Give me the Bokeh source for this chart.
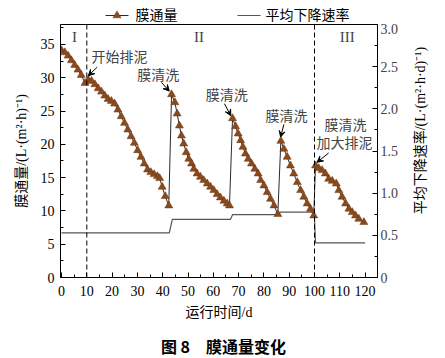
import math
from bokeh.plotting import figure
from bokeh.layouts import column, row
from bokeh.models import (Range1d, LinearAxis, Span, Label, Arrow, VeeHead,
                          FixedTicker, ColumnDataSource)
from bokeh.core.properties import value
from bokeh.embed import file_html
from bokeh.resources import INLINE

# ---------------- data ----------------
flux_days = [0, 1.3, 2.6, 3.9, 5.2, 6.5, 7.8, 9.3, 10.6, 11.9, 13.2, 14.5, 15.8, 17.1,
             18.4, 19.7, 21.0, 22.3, 23.6, 24.9, 26.2, 27.5, 28.8, 30.1, 31.4, 32.7,
             34.0, 35.3, 36.6, 37.9, 38.8, 39.8, 41.0, 42.4,
             43.5, 44.8, 45.7, 46.6, 47.4, 48.3, 49.3, 50.3, 51.4, 52.3, 53.6, 54.9,
             56.2, 57.6, 58.9, 60.2, 61.5, 62.8, 64.2, 65.5, 66.4,
             67.6, 68.8, 69.8, 70.8, 71.7, 72.7, 73.8, 75.1, 76.4, 77.7, 78.7, 80.0,
             81.3, 82.6, 84.0, 85.5,
             86.7, 87.9, 89.2, 90.5, 91.8, 93.2, 94.5, 95.8, 97.1, 98.4, 99.7,
             100.4, 101.7, 103.0, 104.3, 105.6, 107.0, 108.6, 109.6, 110.9, 112.3,
             113.6, 114.9, 116.2, 117.5, 119.5]
flux_vals = [34.1, 33.8, 33.3, 32.6, 31.9, 31.2, 30.4, 29.2, 29.7, 29.5, 29.0, 28.4, 27.9, 27.3,
             26.8, 26.5, 26.1, 25.2, 24.2, 23.2, 22.2, 21.2, 20.2, 19.1, 18.1, 17.1,
             16.2, 15.8, 15.5, 15.2, 14.9, 13.6, 12.2, 10.8,
             27.5, 26.3, 24.6, 22.8, 21.3, 20.1, 18.8, 17.8, 17.1, 16.3, 15.6, 15.1,
             14.6, 14.1, 13.6, 13.1, 12.5, 12.0, 11.5, 11.1, 10.8,
             23.9, 22.7, 21.6, 20.6, 19.6, 18.6, 17.8, 17.1, 16.3, 15.6, 14.6, 13.8,
             12.8, 11.8, 10.8, 9.5,
             20.5, 19.3, 18.1, 16.8, 15.6, 14.3, 13.1, 12.1, 11.1, 10.3, 9.3,
             16.8, 16.4, 16.1, 15.6, 14.8, 14.5, 14.1, 13.1, 12.1, 11.1,
             10.3, 9.8, 9.3, 8.8, 8.3]

rate_days = [0, 42.6, 43.8, 66.8, 67.6, 85.8, 86.4, 99.9, 100.4, 120]
rate_vals = [0.53, 0.53, 0.69, 0.69, 0.745, 0.745, 0.775, 0.775, 0.41, 0.41]

x_ticks = [0, 10, 20, 30, 40, 50, 60, 70, 80, 90, 100, 110, 120]
y_ticks = [0, 5, 10, 15, 20, 25, 30, 35]
r_ticks = [0, 0.5, 1.0, 1.5, 2.0, 2.5, 3.0]
r_tick_labels = ["0", "0.5", "1.0", "1.5", "2.0", "2.5", "3.0"]
phase_bounds = [10, 100]

series_names = ["膜通量", "平均下降速率"]
x_title = "运行时间/d"
y_title = "膜通量/(L·(m²·h)⁻¹)"
r_title = "平均下降速率/(L·(m²·h·d)⁻¹)"
caption = "图 8　膜通量变化"

FONT = "Liberation Serif, Noto Sans CJK SC"
BROWN = "#8B4A1B"
LINE = "#2b2b2b"
RATE = "#555555"


def blank_fig(w, h):
    f = figure(width=w, height=h, output_backend="svg", toolbar_location=None,
               x_range=Range1d(0, w), y_range=Range1d(0, h),
               x_axis_type=None, y_axis_type=None, min_border=0)
    f.grid.visible = False
    f.outline_line_color = None
    f.border_fill_color = "white"
    f.background_fill_color = "white"
    return f


# ---------------- legend strip ----------------
LH = 23
lg = blank_fig(445, LH)
ly = LH - 15
lg.segment(x0=[105, 237], y0=[ly, ly], x1=[128, 260], y1=[ly, ly],
           line_color=[LINE, RATE], line_width=1.2)
lg.scatter(x=[116.5], y=[ly], marker="triangle", size=8, fill_color=BROWN,
           line_color="#6a3412", line_width=0.5)
lg.text(x=[135, 265], y=[ly, ly], text=series_names, text_font=value(FONT),
        text_font_size="14px", text_baseline="middle", text_align="left")

# ---------------- main plot ----------------
MW, MH = 410, 304
p = figure(width=MW, height=MH, output_backend="svg", toolbar_location=None,
           x_range=Range1d(-0.4, 124.9), y_range=Range1d(0, 38),
           min_border_left=60, min_border_right=MW - 377, min_border_top=1,
           min_border_bottom=MH - 254)
p.extra_y_ranges = {"rate": Range1d(0, 3.0)}
p.grid.visible = False
p.outline_line_color = "black"
p.outline_line_width = 1
p.background_fill_color = "white"
p.border_fill_color = "white"

for ax in [p.xaxis[0], p.yaxis[0]]:
    ax.major_tick_in = 5
    ax.major_tick_out = 0
    ax.minor_tick_in = 3
    ax.minor_tick_out = 0
    ax.axis_line_color = "black"
    ax.major_label_text_font = FONT
    ax.major_label_text_font_size = "14px"
    ax.major_label_text_color = "black"
    ax.axis_label_text_font = FONT
    ax.axis_label_text_font_size = "14px"
    ax.axis_label_text_font_style = "normal"
    ax.axis_label_text_color = "black"

p.xaxis[0].ticker = FixedTicker(ticks=x_ticks, minor_ticks=[t + 5 for t in x_ticks])
p.yaxis[0].ticker = FixedTicker(ticks=y_ticks, minor_ticks=[t + 2.5 for t in y_ticks])
p.xaxis[0].axis_label = x_title
p.xaxis[0].major_label_standoff = 8
p.xaxis[0].axis_label_standoff = 6
p.yaxis[0].axis_label = y_title
p.yaxis[0].major_label_standoff = 6
p.yaxis[0].axis_label_standoff = 9

rax = LinearAxis(y_range_name="rate")
rax.ticker = FixedTicker(ticks=r_ticks, minor_ticks=[t + 0.25 for t in r_ticks])
rax.major_label_overrides = {t: s for t, s in zip(r_ticks, r_tick_labels)}
rax.major_tick_in = 5
rax.major_tick_out = 0
rax.minor_tick_in = 3
rax.minor_tick_out = 0
rax.major_label_text_font = FONT
rax.major_label_text_font_size = "14px"
rax.major_label_standoff = 3
p.add_layout(rax, "right")

for b in phase_bounds:
    p.add_layout(Span(location=b, dimension="height", line_color="black",
                      line_dash="5 3", line_width=1))

p.line(rate_days, rate_vals, y_range_name="rate", line_color=RATE, line_width=1.2)

src = ColumnDataSource(dict(x=flux_days, y=flux_vals))
p.line("x", "y", source=src, line_color=LINE, line_width=1)
p.scatter("x", "y", source=src, marker="triangle", size=8, fill_color=BROWN,
          line_color="#6a3412", line_width=0.5)

for txt, xx in [("I", 5.1), ("II", 54.3), ("III", 112.9)]:
    p.add_layout(Label(x=xx, y=36.1, text=txt, text_font=FONT, text_font_size="15px",
                       text_align="center", text_baseline="middle"))


def note(txt, x, y, align="left"):
    p.add_layout(Label(x=x, y=y, text=txt, text_font=FONT, text_font_size="14px",
                       text_align=align, text_baseline="middle"))


def arrow(x0, y0, x1, y1):
    p.add_layout(Arrow(x_start=x0, y_start=y0, x_end=x1, y_end=y1,
                       line_color="black", line_width=1,
                       end=VeeHead(size=6, fill_color="black", line_color="black")))


note("开始排泥", 11.9, 33.0)
arrow(14.1, 31.6, 10.6, 30.3)
note("膜清洗", 29.9, 30.4)
arrow(39.5, 29.3, 42.6, 28.0)
note("膜清洗", 57.0, 27.3)
arrow(64.4, 26.1, 66.9, 24.3)
note("膜清洗", 80.6, 24.2)
arrow(87.9, 23.0, 86.6, 21.1)
note("膜清洗", 112.3, 22.8, "center")
note("加大排泥", 111.9, 20.1, "center")
arrow(105.6, 18.7, 101.0, 17.3)

# ---------------- right axis title strip ----------------
rf = blank_fig(445 - MW, MH)
rf.text(x=[10], y=[MH - (150.5 - LH)], text=[r_title], angle=math.pi / 2,
        text_font=value(FONT), text_font_size="14px", text_align="center",
        text_baseline="middle")

# ---------------- caption strip ----------------
CH = 358 - LH - MH
cf = blank_fig(445, CH)
cf.text(x=[223], y=[CH - (345 - LH - MH)], text=[caption],
        text_font=value("Noto Sans CJK SC"), text_font_size="16px",
        text_font_style="bold", text_align="center", text_baseline="middle")

layout = column(lg, row(p, rf, spacing=0), cf, spacing=0)
open("out.html", "w").write(file_html(layout, INLINE))
